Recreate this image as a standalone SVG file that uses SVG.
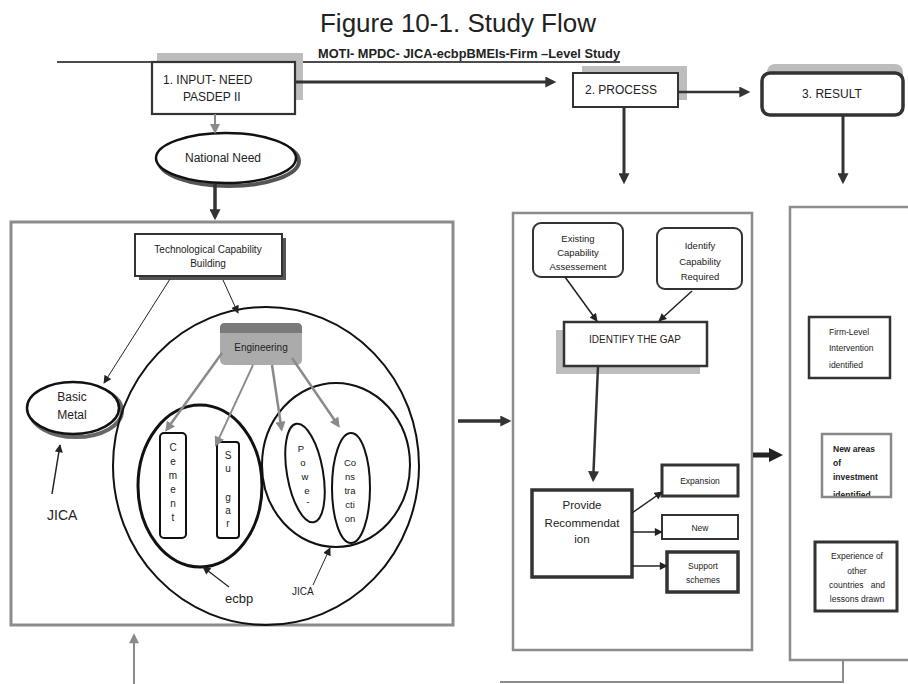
<svg xmlns="http://www.w3.org/2000/svg" width="908" height="684" viewBox="0 0 908 684">
<defs>
<style>
.t{font-family:"Liberation Sans",Arial,sans-serif;fill:#222}
.c{text-anchor:middle}
.box{fill:#fff;stroke:#333}
.shadow{fill:#bdbdbd}
.panel{fill:#fff;stroke:#8c8c8c}
.thick{stroke:#333;fill:none}
.gray{stroke:#8a8a8a;fill:none}
.thin{stroke:#222;fill:none}
</style>
<marker id="aT" viewBox="0 0 10 10" refX="7" refY="5" markerWidth="13" markerHeight="11" markerUnits="userSpaceOnUse" orient="auto"><path d="M0,0 L10,5 L0,10 z" fill="#333"/></marker>
<marker id="aH" viewBox="0 0 10 10" refX="5" refY="5" markerWidth="15" markerHeight="14" markerUnits="userSpaceOnUse" orient="auto"><path d="M0,0 L10,5 L0,10 z" fill="#222"/></marker>
<marker id="aG" viewBox="0 0 10 10" refX="7" refY="5" markerWidth="11" markerHeight="10" markerUnits="userSpaceOnUse" orient="auto"><path d="M0,0 L10,5 L0,10 z" fill="#8a8a8a"/></marker>
<marker id="aS" viewBox="0 0 10 10" refX="9" refY="5" markerWidth="9" markerHeight="8" markerUnits="userSpaceOnUse" orient="auto"><path d="M0,0 L10,5 L0,10 z" fill="#222"/></marker>
<clipPath id="clipNew"><rect x="822" y="434" width="69" height="62"/></clipPath>
</defs>
<rect width="908" height="684" fill="#fff"/>

<!-- titles -->
<text class="t c" x="458" y="32" font-size="26" fill="#111">Figure 10-1.  Study Flow</text>
<line x1="57" y1="62" x2="620" y2="62" stroke="#111" stroke-width="1.3"/>
<text class="t" x="318" y="58" font-size="12" font-weight="bold" textLength="302" lengthAdjust="spacingAndGlyphs">MOTI- MPDC- JICA-ecbpBMEIs-Firm –Level Study</text>

<!-- panels -->
<g id="panel-left"><rect class="panel" x="11" y="222" width="442" height="403" stroke-width="3"/></g>
<g id="panel-middle"><rect class="panel" x="513" y="213" width="239" height="437" stroke-width="2.5"/></g>
<g id="panel-right"><rect class="panel" x="790" y="207" width="130" height="453" stroke-width="2.5"/></g>

<!-- top nodes -->
<g id="input">
<rect class="shadow" x="157" y="53" width="146" height="47"/>
<rect class="box" x="152" y="62" width="143" height="52" stroke-width="2.2"/>
<text class="t" x="163" y="84" font-size="12">1.  INPUT- NEED</text>
<text class="t" x="183" y="101" font-size="12">PASDEP II</text>
</g>
<g id="process">
<rect class="shadow" x="582" y="66" width="105" height="34"/>
<rect class="box" x="573" y="73" width="105" height="34" stroke-width="2"/>
<text class="t" x="585" y="94" font-size="12">2.  PROCESS</text>
</g>
<g id="result">
<rect class="shadow" x="767" y="64" width="136" height="42" rx="8"/>
<rect class="box" x="762" y="73" width="141" height="42" rx="8" stroke-width="3.5"/>
<text class="t c" x="832" y="98" font-size="12">3. RESULT</text>
</g>
<g id="national-need">
<ellipse cx="229" cy="161" rx="70" ry="25" fill="none" stroke="#555" stroke-width="4"/>
<ellipse cx="226" cy="158" rx="70" ry="25" fill="#fff" stroke="#111" stroke-width="2.5"/>
<text class="t c" x="223" y="162" font-size="12" fill="#444">National Need</text>
</g>

<!-- left panel content -->
<g id="tcb">
<rect x="139" y="238" width="147" height="42" fill="#555"/>
<rect class="box" x="135" y="234" width="147" height="42" stroke-width="2"/>
<text class="t c" x="208" y="253" font-size="10">Technological Capability</text>
<text class="t c" x="208" y="267" font-size="10">Building</text>
</g>
<g id="basic-metal">
<ellipse cx="76" cy="411" rx="46" ry="26" fill="none" stroke="#666" stroke-width="4"/>
<ellipse cx="73" cy="408" rx="46" ry="26" fill="#fff" stroke="#111" stroke-width="2.5"/>
<text class="t c" x="72" y="401" font-size="12">Basic</text>
<text class="t c" x="72" y="419" font-size="12">Metal</text>
</g>
<g id="jica-left"><text class="t" x="47" y="520" font-size="14" fill="#333">JICA</text></g>
<g id="big-circle"><ellipse cx="266" cy="466" rx="153" ry="159" fill="none" stroke="#111" stroke-width="2"/></g>
<g id="engineering">
<rect x="220" y="323" width="82" height="42" rx="5" fill="#ababab"/>
<path d="M220,333 V328 Q220,323 225,323 H297 Q302,323 302,328 V333 Z" fill="#7a7a7a"/>
<text class="t c" x="261" y="351" font-size="10">Engineering</text>
</g>
<g id="ecbp-ellipse"><ellipse cx="200" cy="486" rx="62" ry="81" fill="none" stroke="#111" stroke-width="3"/></g>
<g id="jica-ellipse"><ellipse cx="336" cy="465" rx="74" ry="82" fill="none" stroke="#111" stroke-width="2"/></g>
<g id="cement">
<rect x="160" y="433" width="26" height="105" rx="4" fill="#fff" stroke="#111" stroke-width="2"/>
<g class="t c" font-size="10" fill="#111">
<text x="173" y="451">C</text><text x="173" y="465">e</text><text x="173" y="479">m</text><text x="173" y="493">e</text><text x="173" y="507">n</text><text x="173" y="521">t</text>
</g>
</g>
<g id="sugar">
<rect x="217" y="442" width="22" height="96" rx="3" fill="#fff" stroke="#111" stroke-width="2"/>
<g class="t c" font-size="10" fill="#111">
<text x="228" y="459">S</text><text x="228" y="472">u</text><text x="228" y="501">g</text><text x="228" y="514">a</text><text x="228" y="527">r</text>
</g>
</g>
<g id="power">
<ellipse cx="305" cy="473" rx="18" ry="50" fill="#fff" stroke="#111" stroke-width="2" transform="rotate(-10 305 473)"/>
<g font-family="Liberation Sans, Arial, sans-serif" text-anchor="middle" font-size="9.5" fill="#111">
<text x="301" y="452">P</text><text x="303" y="466">o</text><text x="305" y="480">w</text><text x="307" y="494">e</text><text x="308" y="505">-</text>
</g>
</g>
<g id="construction">
<ellipse cx="351" cy="488" rx="19" ry="55" fill="#fff" stroke="#111" stroke-width="2"/>
<g class="t c" font-size="9.5" fill="#111">
<text x="350" y="466">Co</text><text x="350" y="480">ns</text><text x="350" y="494">tra</text><text x="350" y="508">cti</text><text x="350" y="522">on</text>
</g>
</g>
<g id="ecbp-label"><text class="t" x="225" y="603" font-size="13" fill="#111">ecbp</text></g>
<g id="jica-label"><text class="t" x="292" y="595" font-size="10" fill="#444">JICA</text></g>

<!-- middle panel content -->
<g id="existing">
<rect class="box" x="533" y="223" width="90" height="54" rx="8" stroke="#111" stroke-width="2"/>
<text class="t c" x="578" y="242" font-size="9.5">Existing</text>
<text class="t c" x="578" y="256" font-size="9.5">Capability</text>
<text class="t c" x="578" y="270" font-size="9.5">Assessement</text>
</g>
<g id="identify">
<rect class="box" x="657" y="228" width="85" height="61" rx="8" stroke="#111" stroke-width="2"/>
<text class="t c" x="700" y="249" font-size="9.5">Identify</text>
<text class="t c" x="700" y="265" font-size="9.5">Capability</text>
<text class="t c" x="700" y="280" font-size="9.5">Required</text>
</g>
<g id="gap">
<rect class="shadow" x="556" y="330" width="144" height="44"/>
<rect class="box" x="564" y="322" width="143" height="44" stroke-width="2.5"/>
<text class="t c" x="635" y="343" font-size="10">IDENTIFY THE GAP</text>
</g>
<g id="provide">
<rect class="box" x="532" y="490" width="100" height="87" stroke-width="3.5"/>
<text class="t c" x="582" y="509" font-size="11.5">Provide</text>
<text class="t c" x="582" y="527" font-size="11.5">Recommendat</text>
<text class="t c" x="582" y="543" font-size="11.5">ion</text>
</g>
<g id="expansion">
<rect class="box" x="662" y="465" width="76" height="31" stroke-width="3"/>
<text class="t c" x="700" y="484" font-size="8.5">Expansion</text>
</g>
<g id="new">
<rect class="box" x="662" y="515" width="76" height="24" stroke-width="2"/>
<text class="t c" x="700" y="531" font-size="8.5">New</text>
</g>
<g id="support">
<rect class="box" x="667" y="552" width="71" height="40" stroke="#111" stroke-width="3.5"/>
<text class="t c" x="703" y="569" font-size="8.5">Support</text>
<text class="t c" x="703" y="583" font-size="8.5">schemes</text>
</g>

<!-- right panel content -->
<g id="firm-level">
<rect class="box" x="809" y="317" width="81" height="61" stroke-width="2.5"/>
<text class="t" x="829" y="335" font-size="8.5">Firm-Level</text>
<text class="t" x="829" y="351" font-size="8.5">Intervention</text>
<text class="t" x="829" y="368" font-size="8.5">identified</text>
</g>
<g id="new-areas">
<g clip-path="url(#clipNew)">
<text class="t" x="833" y="452" font-size="8.5" font-weight="bold">New areas</text>
<text class="t" x="833" y="466" font-size="8.5" font-weight="bold">of</text>
<text class="t" x="833" y="480" font-size="8.5" font-weight="bold">investment</text>
<text class="t" x="833" y="498" font-size="8.5" font-weight="bold">identified</text>
</g>
<rect x="822" y="434" width="69" height="63" fill="none" stroke="#888" stroke-width="2.5"/>
</g>
<g id="experience">
<rect class="box" x="815" y="542" width="82" height="69" stroke="#111" stroke-width="3"/>
<text class="t c" x="857" y="559" font-size="8.5">Experience of</text>
<text class="t c" x="857" y="574" font-size="8.5">other</text>
<text class="t c" x="857" y="588" font-size="8.5" xml:space="preserve">countries   and</text>
<text class="t c" x="857" y="602" font-size="8.5">lessons drawn</text>
</g>

<!-- connectors -->
<g id="connectors">
<line class="thick" x1="295" y1="82" x2="553" y2="82" stroke-width="3" marker-end="url(#aT)"/>
<line class="thick" x1="678" y1="92" x2="747" y2="92" stroke-width="2.5" marker-end="url(#aT)"/>
<line class="thick" x1="624" y1="107" x2="624" y2="181" stroke-width="3" marker-end="url(#aT)"/>
<line class="thick" x1="843" y1="115" x2="843" y2="181" stroke-width="3" marker-end="url(#aT)"/>
<line class="gray" x1="215" y1="114" x2="215" y2="131" stroke-width="2" marker-end="url(#aG)"/>
<line class="thick" x1="215" y1="184" x2="215" y2="217" stroke-width="3.5" marker-end="url(#aT)"/>
<line class="thin" x1="170" y1="279" x2="104" y2="383" stroke-width="1" marker-end="url(#aS)"/>
<line class="thin" x1="223" y1="280" x2="238" y2="313" stroke-width="1" marker-end="url(#aS)"/>
<line class="gray" x1="222" y1="353" x2="166.9" y2="429.3" stroke-width="2.5" marker-end="url(#aG)"/>
<line class="gray" x1="253" y1="365" x2="216.4" y2="444" stroke-width="1.8" marker-end="url(#aG)"/>
<line class="gray" x1="272" y1="365" x2="281.5" y2="428.7" stroke-width="2.5" marker-end="url(#aG)"/>
<line class="gray" x1="292" y1="358" x2="338.1" y2="425.3" stroke-width="2.5" marker-end="url(#aG)"/>
<line class="thin" x1="52" y1="494" x2="60" y2="445" stroke-width="1.5" marker-end="url(#aS)"/>
<line class="thin" x1="229" y1="587" x2="203" y2="567" stroke-width="1.2" marker-end="url(#aS)"/>
<line class="thin" x1="313" y1="585" x2="330" y2="548" stroke-width="1" marker-end="url(#aS)"/>
<line class="gray" x1="134" y1="684" x2="134" y2="636.3" stroke-width="2" marker-end="url(#aG)"/>
<line class="thick" x1="458" y1="421" x2="508" y2="421" stroke-width="3.5" marker-end="url(#aT)"/>
<line class="thin" x1="565" y1="277" x2="597" y2="321" stroke-width="1.5" marker-end="url(#aS)"/>
<line class="thin" x1="692" y1="291" x2="659" y2="321" stroke-width="1.5" marker-end="url(#aS)"/>
<line class="thick" x1="598" y1="366" x2="593.2" y2="479" stroke-width="2.5" marker-end="url(#aT)"/>
<line class="thin" x1="632" y1="513" x2="662" y2="492" stroke-width="1.5" marker-end="url(#aS)"/>
<line class="thin" x1="632" y1="532" x2="662" y2="532" stroke-width="1.5" marker-end="url(#aS)"/>
<line class="thin" x1="632" y1="566" x2="667" y2="566" stroke-width="1.5" marker-end="url(#aS)"/>
<line x1="753" y1="455" x2="776" y2="455" stroke="#222" stroke-width="5" marker-end="url(#aH)"/>
<polyline points="843,660 843,682 500,682" fill="none" stroke="#8c8c8c" stroke-width="2"/>
</g>
</svg>
